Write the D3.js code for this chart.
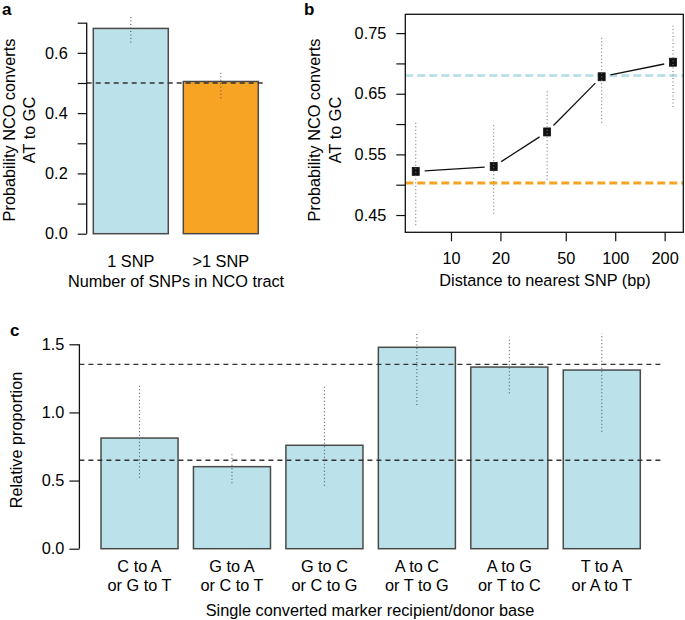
<!DOCTYPE html>
<html>
<head>
<meta charset="utf-8">
<script src="https://cdn.jsdelivr.net/npm/d3@7"></script>
<style>
  html, body { margin: 0; padding: 0; background: #fff; }
  svg { display: block; font-family: "Liberation Sans", Arial, Helvetica, sans-serif; }
  text { fill: #000; }
</style>
</head>
<body>
<svg id="chart" width="685" height="620"></svg>
<script>
// ---------- Data ----------
// Panel a
const aCategories = ["1 SNP", ">1 SNP"];
const aValues = [0.681, 0.505];
const aLower = [0.634, 0.449];
const aUpper = [0.725, 0.540];
const aRefLine = 0.5;
const aYTicks = [0, 0.1, 0.2, 0.3, 0.4, 0.5, 0.6, 0.7];
const aYLabels = ["0.0", "0.2", "0.4", "0.6"];

// Panel b
const bDistance = [6.1, 18.2, 38.5, 82.7, 225];
const bValues = [0.522, 0.530, 0.587, 0.678, 0.702];
const bLower = [0.433, 0.452, 0.508, 0.602, 0.628];
const bUpper = [0.602, 0.601, 0.657, 0.743, 0.762];
const bRefLines = [0.680, 0.503];
const bXTicks = [10, 20, 50, 100, 200];
const bYTicks = [0.45, 0.50, 0.55, 0.60, 0.65, 0.70, 0.75];
const bYLabels = ["0.45", "0.55", "0.65", "0.75"];

// Panel c
const cCategories = [
  ["C to A", "or G to T"],
  ["G to A", "or C to T"],
  ["G to C", "or C to G"],
  ["A to C", "or T to G"],
  ["A to G", "or T to C"],
  ["T to A", "or A to T"]
];
const cValues = [0.812, 0.602, 0.759, 1.478, 1.333, 1.311];
const cLower = [0.521, 0.480, 0.462, 1.054, 1.140, 0.858];
const cUpper = [1.213, 0.712, 1.189, 1.592, 1.555, 1.580];
const cRefLines = [1.353, 0.649];
const cYTicks = [0, 0.5, 1.0, 1.5];
const cYLabels = ["0.0", "0.5", "1.0", "1.5"];

// ---------- Styles ----------
const BLUE = "#BBE2EA";
const ORANGE = "#F7A424";
const BAR_STROKE = "#4a4a4a";
const ERR = "#555";
const FS = "16.3px";
const FF = "Liberation Sans, Arial, sans-serif";

const svg = d3.select("#chart");

function panelLabel(x, y, t) {
  svg.append("text").attr("x", x).attr("y", y)
    .attr("font-size", "17px").attr("font-weight", "bold").text(t);
}

// ======== Panel a ========
{
  const g = svg.append("g");
  const x = d3.scaleBand().domain(aCategories).range([93.3, 258.3]).paddingInner(1/6).paddingOuter(0);
  const y = d3.scaleLinear().domain([0, 0.7]).range([233.7, 22.7]);
  const plotL = 86.7, plotR = 265;

  g.selectAll("rect.bar").data(aCategories).join("rect")
    .attr("x", d => x(d)).attr("width", x.bandwidth())
    .attr("y", (d, i) => y(aValues[i]))
    .attr("height", (d, i) => y(0) - y(aValues[i]))
    .attr("fill", (d, i) => i === 0 ? BLUE : ORANGE)
    .attr("stroke", BAR_STROKE).attr("stroke-width", 1.5);

  g.append("line").attr("x1", plotL).attr("x2", plotR)
    .attr("y1", y(aRefLine)).attr("y2", y(aRefLine))
    .attr("stroke", "#333").attr("stroke-width", 1.3).attr("stroke-dasharray", "5,4");

  g.selectAll("line.err").data(aCategories).join("line")
    .attr("x1", d => x(d) + x.bandwidth() / 2).attr("x2", d => x(d) + x.bandwidth() / 2)
    .attr("y1", (d, i) => y(aLower[i])).attr("y2", (d, i) => y(aUpper[i]))
    .attr("stroke", ERR).attr("stroke-width", 1.1).attr("stroke-dasharray", "1,2.5");

  const axis = d3.axisLeft(y).tickValues(aYTicks).tickSize(9).tickPadding(10)
    .tickFormat(d => aYLabels.includes(d3.format(".1f")(d)) ? d3.format(".1f")(d) : "");
  const ag = g.append("g").attr("transform", `translate(${plotL},0)`).call(axis);
  ag.select(".domain").attr("stroke", "#111").attr("stroke-width", 1.3).attr("d", `M0,${y(0)}V${y(0.7)}`);
  ag.selectAll(".tick line").attr("stroke", "#111").attr("stroke-width", 1.2);
  ag.selectAll(".tick text").attr("font-size", FS).attr("fill", "#000").attr("font-family", FF);

  g.selectAll("text.cat").data(aCategories).join("text")
    .attr("x", d => x(d) + x.bandwidth() / 2).attr("y", 266.5)
    .attr("text-anchor", "middle").attr("font-size", FS).text(d => d);
  g.append("text").attr("x", 176).attr("y", 287).attr("text-anchor", "middle")
    .attr("font-size", FS).text("Number of SNPs in NCO tract");

  const yt = g.append("text").attr("transform", "translate(0,130) rotate(-90)").attr("text-anchor", "middle").attr("font-size", FS);
  yt.append("tspan").attr("x", 0).attr("y", 15.3).text("Probability NCO converts");
  yt.append("tspan").attr("x", 0).attr("y", 35).text("AT to GC");

  panelLabel(2, 15, "a");
}

// ======== Panel b ========
{
  const g = svg.append("g");
  const L = 405.3, R = 683.3, T = 14.3, B = 232.3;
  const x = d3.scaleLog().domain([5.27, 259.8]).range([L, R]);
  const y = d3.scaleLinear().domain([0.4215, 0.781]).range([B, T]);

  g.selectAll("line.ref").data(bRefLines).join("line")
    .attr("x1", L).attr("x2", R)
    .attr("y1", d => y(d)).attr("y2", d => y(d))
    .attr("stroke", (d, i) => i === 0 ? BLUE : ORANGE)
    .attr("stroke-width", 3).attr("stroke-dasharray", "8,4");

  const pts = bDistance.map((d, i) => [x(d), y(bValues[i])]);
  const gap = 9;
  for (let i = 0; i < pts.length - 1; i++) {
    const [x1, y1] = pts[i], [x2, y2] = pts[i + 1];
    const len = Math.hypot(x2 - x1, y2 - y1);
    const ux = (x2 - x1) / len, uy = (y2 - y1) / len;
    g.append("line")
      .attr("x1", x1 + ux * gap).attr("y1", y1 + uy * gap)
      .attr("x2", x2 - ux * gap).attr("y2", y2 - uy * gap)
      .attr("stroke", "#111").attr("stroke-width", 1.3);
  }

  g.selectAll("rect.pt").data(bDistance).join("rect")
    .attr("x", d => x(d) - 3.5).attr("y", (d, i) => y(bValues[i]) - 4)
    .attr("width", 7).attr("height", 8)
    .attr("fill", "#111").attr("stroke", "#111").attr("stroke-width", 0.8);

  g.selectAll("line.err").data(bDistance).join("line")
    .attr("x1", d => x(d)).attr("x2", d => x(d))
    .attr("y1", (d, i) => y(bLower[i])).attr("y2", (d, i) => y(bUpper[i]))
    .attr("stroke", "#777").attr("stroke-width", 1.1).attr("stroke-dasharray", "1,2.5");

  g.append("rect").attr("x", L).attr("y", T).attr("width", R - L).attr("height", B - T)
    .attr("fill", "none").attr("stroke", "#111").attr("stroke-width", 1.3);

  const yAxis = d3.axisLeft(y).tickValues(bYTicks).tickSize(9).tickPadding(10)
    .tickFormat(d => bYLabels.includes(d3.format(".2f")(d)) ? d3.format(".2f")(d) : "");
  const ya = g.append("g").attr("transform", `translate(${L},0)`).call(yAxis);
  ya.select(".domain").remove();
  ya.selectAll(".tick line").attr("stroke", "#111").attr("stroke-width", 1.2);
  ya.selectAll(".tick text").attr("font-size", FS).attr("fill", "#000").attr("font-family", FF);

  const xAxis = d3.axisBottom(x).tickValues(bXTicks).tickSize(9).tickPadding(11)
    .tickFormat(d3.format("d"));
  const xa = g.append("g").attr("transform", `translate(0,${B})`).call(xAxis);
  xa.select(".domain").remove();
  xa.selectAll(".tick line").attr("stroke", "#111").attr("stroke-width", 1.2);
  xa.selectAll(".tick text").attr("font-size", FS).attr("fill", "#000").attr("font-family", FF);

  g.append("text").attr("x", 545).attr("y", 286).attr("text-anchor", "middle")
    .attr("font-size", FS).text("Distance to nearest SNP (bp)");

  const yt = g.append("text").attr("transform", "translate(300,130) rotate(-90)").attr("text-anchor", "middle").attr("font-size", FS);
  yt.append("tspan").attr("x", 0).attr("y", 19.5).text("Probability NCO converts");
  yt.append("tspan").attr("x", 0).attr("y", 40.5).text("AT to GC");

  panelLabel(304, 15, "b");
}

// ======== Panel c ========
{
  const g = svg.append("g");
  const idx = cCategories.map((d, i) => i);
  const x = d3.scaleBand().domain(idx).range([101, 640.3]).paddingInner(1/6).paddingOuter(0);
  const y = d3.scaleLinear().domain([0, 1.5]).range([548.7, 344.3]);
  const plotL = 79.4, plotR = 661.9;

  g.selectAll("rect.bar").data(idx).join("rect")
    .attr("x", i => x(i)).attr("width", x.bandwidth())
    .attr("y", i => y(cValues[i])).attr("height", i => y(0) - y(cValues[i]))
    .attr("fill", BLUE).attr("stroke", BAR_STROKE).attr("stroke-width", 1.5);

  g.selectAll("line.ref").data(cRefLines).join("line")
    .attr("x1", plotL).attr("x2", plotR)
    .attr("y1", d => y(d)).attr("y2", d => y(d))
    .attr("stroke", "#333").attr("stroke-width", 1.3).attr("stroke-dasharray", "5,4");

  g.selectAll("line.err").data(idx).join("line")
    .attr("x1", i => x(i) + x.bandwidth() / 2).attr("x2", i => x(i) + x.bandwidth() / 2)
    .attr("y1", i => y(cLower[i])).attr("y2", i => y(cUpper[i]))
    .attr("stroke", ERR).attr("stroke-width", 1.1).attr("stroke-dasharray", "1,2.5");

  const axis = d3.axisLeft(y).tickValues(cYTicks).tickSize(10).tickPadding(5)
    .tickFormat(d => d3.format(".1f")(d));
  const ag = g.append("g").attr("transform", `translate(${plotL},0)`).call(axis);
  ag.select(".domain").attr("stroke", "#111").attr("stroke-width", 1.3).attr("d", `M0,${y(0)}V${y(1.5)}`);
  ag.selectAll(".tick line").attr("stroke", "#111").attr("stroke-width", 1.2);
  ag.selectAll(".tick text").attr("font-size", FS).attr("fill", "#000").attr("font-family", FF);

  const lab = g.selectAll("text.cat").data(idx).join("text")
    .attr("text-anchor", "middle").attr("font-size", FS);
  lab.append("tspan").attr("x", i => x(i) + x.bandwidth() / 2).attr("y", 571.5).text(i => cCategories[i][0]);
  lab.append("tspan").attr("x", i => x(i) + x.bandwidth() / 2).attr("y", 591).text(i => cCategories[i][1]);

  g.append("text").attr("x", 370).attr("y", 616).attr("text-anchor", "middle")
    .attr("font-size", FS).text("Single converted marker recipient/donor base");

  g.append("text").attr("transform", "translate(22,440) rotate(-90)").attr("text-anchor", "middle")
    .attr("font-size", FS).text("Relative proportion");

  panelLabel(10, 336, "c");
}
</script>
</body>
</html>
